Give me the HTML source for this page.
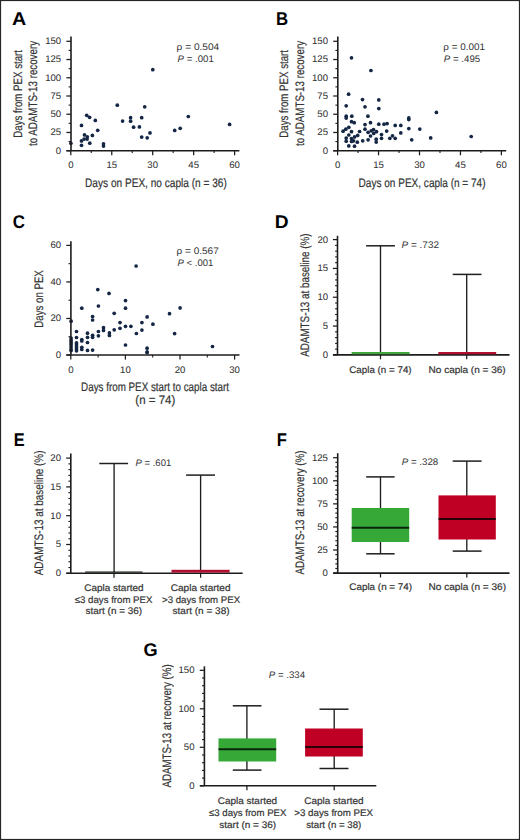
<!DOCTYPE html>
<html><head><meta charset="utf-8"><title>Figure</title>
<style>
html,body{margin:0;padding:0;background:#fff;}
body{width:520px;height:840px;overflow:hidden;font-family:"Liberation Sans", sans-serif;}
svg{display:block;}
svg text{font-family:"Liberation Sans", sans-serif;}
svg text.t{stroke:#333;stroke-width:0.2px;paint-order:stroke;}
svg text.n{stroke:#333;stroke-width:0.06px;}
</style></head><body>
<svg width="520" height="840" viewBox="0 0 520 840" font-family='"Liberation Sans", sans-serif' text-rendering="geometricPrecision">
<rect x="0" y="0" width="520" height="840" fill="#fff"/>
<circle cx="117.3" cy="105.2" r="1.85" fill="#142644"/>
<circle cx="122.6" cy="121.1" r="1.85" fill="#142644"/>
<circle cx="86.7" cy="115.3" r="1.85" fill="#142644"/>
<circle cx="89.6" cy="117.3" r="1.85" fill="#142644"/>
<circle cx="95.3" cy="120.4" r="1.85" fill="#142644"/>
<circle cx="81.5" cy="125.4" r="1.85" fill="#142644"/>
<circle cx="103.5" cy="143.8" r="1.85" fill="#142644"/>
<circle cx="103.5" cy="146.1" r="1.85" fill="#142644"/>
<circle cx="70.9" cy="143.3" r="1.85" fill="#142644"/>
<circle cx="84.5" cy="134.9" r="1.85" fill="#142644"/>
<circle cx="87.3" cy="136.8" r="1.85" fill="#142644"/>
<circle cx="87.1" cy="139.1" r="1.85" fill="#142644"/>
<circle cx="84.1" cy="139.1" r="1.85" fill="#142644"/>
<circle cx="81.5" cy="140.9" r="1.85" fill="#142644"/>
<circle cx="81.5" cy="145.3" r="1.85" fill="#142644"/>
<circle cx="89.8" cy="143.2" r="1.85" fill="#142644"/>
<circle cx="92.4" cy="135.4" r="1.85" fill="#142644"/>
<circle cx="97.7" cy="130.3" r="1.85" fill="#142644"/>
<circle cx="152.8" cy="69.7" r="1.85" fill="#142644"/>
<circle cx="144.7" cy="106.8" r="1.85" fill="#142644"/>
<circle cx="130.6" cy="117.7" r="1.85" fill="#142644"/>
<circle cx="130.6" cy="121.2" r="1.85" fill="#142644"/>
<circle cx="141.7" cy="117.7" r="1.85" fill="#142644"/>
<circle cx="133.6" cy="127.2" r="1.85" fill="#142644"/>
<circle cx="139.4" cy="126.9" r="1.85" fill="#142644"/>
<circle cx="141.7" cy="137.1" r="1.85" fill="#142644"/>
<circle cx="147.2" cy="137.8" r="1.85" fill="#142644"/>
<circle cx="150.0" cy="132.9" r="1.85" fill="#142644"/>
<circle cx="174.7" cy="130.4" r="1.85" fill="#142644"/>
<circle cx="180.2" cy="128.3" r="1.85" fill="#142644"/>
<circle cx="188.3" cy="116.5" r="1.85" fill="#142644"/>
<circle cx="229.6" cy="124.4" r="1.85" fill="#142644"/>
<line x1="71.00" y1="36.50" x2="71.00" y2="150.70" stroke="#1c1c1c" stroke-width="1.6"/>
<line x1="66.40" y1="150.70" x2="71.00" y2="150.70" stroke="#1c1c1c" stroke-width="1.25"/>
<line x1="66.40" y1="132.47" x2="71.00" y2="132.47" stroke="#1c1c1c" stroke-width="1.25"/>
<line x1="66.40" y1="114.23" x2="71.00" y2="114.23" stroke="#1c1c1c" stroke-width="1.25"/>
<line x1="66.40" y1="96.00" x2="71.00" y2="96.00" stroke="#1c1c1c" stroke-width="1.25"/>
<line x1="66.40" y1="77.77" x2="71.00" y2="77.77" stroke="#1c1c1c" stroke-width="1.25"/>
<line x1="66.40" y1="59.53" x2="71.00" y2="59.53" stroke="#1c1c1c" stroke-width="1.25"/>
<line x1="66.40" y1="41.30" x2="71.00" y2="41.30" stroke="#1c1c1c" stroke-width="1.25"/>
<line x1="68.60" y1="141.58" x2="71.00" y2="141.58" stroke="#1c1c1c" stroke-width="1.1"/>
<line x1="68.60" y1="123.35" x2="71.00" y2="123.35" stroke="#1c1c1c" stroke-width="1.1"/>
<line x1="68.60" y1="105.12" x2="71.00" y2="105.12" stroke="#1c1c1c" stroke-width="1.1"/>
<line x1="68.60" y1="86.88" x2="71.00" y2="86.88" stroke="#1c1c1c" stroke-width="1.1"/>
<line x1="68.60" y1="68.65" x2="71.00" y2="68.65" stroke="#1c1c1c" stroke-width="1.1"/>
<line x1="68.60" y1="50.42" x2="71.00" y2="50.42" stroke="#1c1c1c" stroke-width="1.1"/>
<line x1="66.40" y1="150.70" x2="239.40" y2="150.70" stroke="#1c1c1c" stroke-width="1.6"/>
<line x1="70.80" y1="150.70" x2="70.80" y2="155.30" stroke="#1c1c1c" stroke-width="1.25"/>
<line x1="111.75" y1="150.70" x2="111.75" y2="155.30" stroke="#1c1c1c" stroke-width="1.25"/>
<line x1="152.70" y1="150.70" x2="152.70" y2="155.30" stroke="#1c1c1c" stroke-width="1.25"/>
<line x1="193.65" y1="150.70" x2="193.65" y2="155.30" stroke="#1c1c1c" stroke-width="1.25"/>
<line x1="234.60" y1="150.70" x2="234.60" y2="155.30" stroke="#1c1c1c" stroke-width="1.25"/>
<line x1="91.28" y1="150.70" x2="91.28" y2="153.10" stroke="#1c1c1c" stroke-width="1.1"/>
<line x1="132.22" y1="150.70" x2="132.22" y2="153.10" stroke="#1c1c1c" stroke-width="1.1"/>
<line x1="173.18" y1="150.70" x2="173.18" y2="153.10" stroke="#1c1c1c" stroke-width="1.1"/>
<line x1="214.12" y1="150.70" x2="214.12" y2="153.10" stroke="#1c1c1c" stroke-width="1.1"/>
<text id="Ay0" class="n" x="61.20" y="153.60" font-size="9.6" font-weight="normal" font-style="normal" fill="#333333" text-anchor="end">0</text>
<text id="Ay25" class="n" x="61.20" y="135.37" font-size="9.6" font-weight="normal" font-style="normal" fill="#333333" text-anchor="end">25</text>
<text id="Ay50" class="n" x="61.20" y="117.13" font-size="9.6" font-weight="normal" font-style="normal" fill="#333333" text-anchor="end">50</text>
<text id="Ay75" class="n" x="61.20" y="98.90" font-size="9.6" font-weight="normal" font-style="normal" fill="#333333" text-anchor="end">75</text>
<text id="Ay100" class="n" x="61.20" y="80.67" font-size="9.6" font-weight="normal" font-style="normal" fill="#333333" text-anchor="end">100</text>
<text id="Ay125" class="n" x="61.20" y="62.43" font-size="9.6" font-weight="normal" font-style="normal" fill="#333333" text-anchor="end">125</text>
<text id="Ay150" class="n" x="61.20" y="44.20" font-size="9.6" font-weight="normal" font-style="normal" fill="#333333" text-anchor="end">150</text>
<text id="Ax0" class="n" x="70.80" y="168.40" font-size="9.6" font-weight="normal" font-style="normal" fill="#333333" text-anchor="middle">0</text>
<text id="Ax15" class="n" x="111.75" y="168.40" font-size="9.6" font-weight="normal" font-style="normal" fill="#333333" text-anchor="middle">15</text>
<text id="Ax30" class="n" x="152.70" y="168.40" font-size="9.6" font-weight="normal" font-style="normal" fill="#333333" text-anchor="middle">30</text>
<text id="Ax45" class="n" x="193.65" y="168.40" font-size="9.6" font-weight="normal" font-style="normal" fill="#333333" text-anchor="middle">45</text>
<text id="Ax60" class="n" x="234.60" y="168.40" font-size="9.6" font-weight="normal" font-style="normal" fill="#333333" text-anchor="middle">60</text>
<text id="Axt" class="t" x="85.08" y="186.50" font-size="12.3" font-weight="normal" font-style="normal" fill="#333333" text-anchor="start" textLength="141.71" lengthAdjust="spacingAndGlyphs">Days on PEX, no capla (n = 36)</text>
<text id="Ayt1" class="t" transform="translate(21.50,137.68) rotate(-90)" x="0" y="0" font-size="12.3" fill="#333333" textLength="87.67" lengthAdjust="spacingAndGlyphs">Days from PEX start</text>
<text id="Ayt2" class="t" transform="translate(37.20,146.00) rotate(-90)" x="0" y="0" font-size="12.3" fill="#333333" textLength="105.00" lengthAdjust="spacingAndGlyphs">to ADAMTS-13 recovery</text>
<text id="Arho" class="a" x="176.57" y="49.80" font-size="9.5" font-weight="normal" font-style="normal" fill="#333333" text-anchor="start" textLength="42.70" lengthAdjust="spacingAndGlyphs">ρ = 0.504</text>
<text id="Ap" class="a" x="177.54" y="61.50" font-size="9.5" font-weight="normal" font-style="normal" fill="#333333" text-anchor="start" textLength="36.23" lengthAdjust="spacingAndGlyphs"><tspan font-style="italic">P</tspan> = .001</text>
<circle cx="351.5" cy="57.8" r="1.85" fill="#142644"/>
<circle cx="370.9" cy="70.5" r="1.85" fill="#142644"/>
<circle cx="348.6" cy="94.2" r="1.85" fill="#142644"/>
<circle cx="362.5" cy="99.6" r="1.85" fill="#142644"/>
<circle cx="378.8" cy="99.9" r="1.85" fill="#142644"/>
<circle cx="346.2" cy="105.8" r="1.85" fill="#142644"/>
<circle cx="365.0" cy="106.8" r="1.85" fill="#142644"/>
<circle cx="346.2" cy="116.2" r="1.85" fill="#142644"/>
<circle cx="346.2" cy="118.1" r="1.85" fill="#142644"/>
<circle cx="351.8" cy="116.2" r="1.85" fill="#142644"/>
<circle cx="367.9" cy="116.2" r="1.85" fill="#142644"/>
<circle cx="351.5" cy="121.7" r="1.85" fill="#142644"/>
<circle cx="354.2" cy="122.7" r="1.85" fill="#142644"/>
<circle cx="370.5" cy="122.7" r="1.85" fill="#142644"/>
<circle cx="365.0" cy="124.6" r="1.85" fill="#142644"/>
<circle cx="343.1" cy="131.2" r="1.85" fill="#142644"/>
<circle cx="345.8" cy="129.2" r="1.85" fill="#142644"/>
<circle cx="348.8" cy="127.3" r="1.85" fill="#142644"/>
<circle cx="351.5" cy="131.7" r="1.85" fill="#142644"/>
<circle cx="359.6" cy="131.5" r="1.85" fill="#142644"/>
<circle cx="365.0" cy="129.2" r="1.85" fill="#142644"/>
<circle cx="368.1" cy="132.3" r="1.85" fill="#142644"/>
<circle cx="371.2" cy="130.8" r="1.85" fill="#142644"/>
<circle cx="373.5" cy="129.6" r="1.85" fill="#142644"/>
<circle cx="348.8" cy="135.0" r="1.85" fill="#142644"/>
<circle cx="346.2" cy="138.1" r="1.85" fill="#142644"/>
<circle cx="346.2" cy="141.2" r="1.85" fill="#142644"/>
<circle cx="351.5" cy="138.5" r="1.85" fill="#142644"/>
<circle cx="351.5" cy="141.5" r="1.85" fill="#142644"/>
<circle cx="354.6" cy="136.9" r="1.85" fill="#142644"/>
<circle cx="357.7" cy="135.4" r="1.85" fill="#142644"/>
<circle cx="357.3" cy="142.2" r="1.85" fill="#142644"/>
<circle cx="362.7" cy="140.8" r="1.85" fill="#142644"/>
<circle cx="368.1" cy="139.8" r="1.85" fill="#142644"/>
<circle cx="370.5" cy="136.0" r="1.85" fill="#142644"/>
<circle cx="348.8" cy="145.9" r="1.85" fill="#142644"/>
<circle cx="354.5" cy="146.2" r="1.85" fill="#142644"/>
<circle cx="353.5" cy="140.8" r="1.85" fill="#142644"/>
<circle cx="378.8" cy="108.6" r="1.85" fill="#142644"/>
<circle cx="378.8" cy="124.2" r="1.85" fill="#142644"/>
<circle cx="384.0" cy="124.2" r="1.85" fill="#142644"/>
<circle cx="387.1" cy="123.6" r="1.85" fill="#142644"/>
<circle cx="395.2" cy="125.4" r="1.85" fill="#142644"/>
<circle cx="400.8" cy="125.4" r="1.85" fill="#142644"/>
<circle cx="408.8" cy="117.9" r="1.85" fill="#142644"/>
<circle cx="408.8" cy="119.6" r="1.85" fill="#142644"/>
<circle cx="408.8" cy="128.6" r="1.85" fill="#142644"/>
<circle cx="419.8" cy="129.1" r="1.85" fill="#142644"/>
<circle cx="373.7" cy="133.4" r="1.85" fill="#142644"/>
<circle cx="376.5" cy="131.7" r="1.85" fill="#142644"/>
<circle cx="376.2" cy="139.2" r="1.85" fill="#142644"/>
<circle cx="376.2" cy="142.1" r="1.85" fill="#142644"/>
<circle cx="381.5" cy="134.6" r="1.85" fill="#142644"/>
<circle cx="381.5" cy="138.3" r="1.85" fill="#142644"/>
<circle cx="386.7" cy="131.1" r="1.85" fill="#142644"/>
<circle cx="389.8" cy="138.3" r="1.85" fill="#142644"/>
<circle cx="392.5" cy="135.8" r="1.85" fill="#142644"/>
<circle cx="395.2" cy="138.3" r="1.85" fill="#142644"/>
<circle cx="400.8" cy="132.9" r="1.85" fill="#142644"/>
<circle cx="411.7" cy="139.8" r="1.85" fill="#142644"/>
<circle cx="436.4" cy="112.4" r="1.85" fill="#142644"/>
<circle cx="430.7" cy="137.9" r="1.85" fill="#142644"/>
<circle cx="471.2" cy="136.5" r="1.85" fill="#142644"/>
<line x1="337.80" y1="36.50" x2="337.80" y2="150.70" stroke="#1c1c1c" stroke-width="1.6"/>
<line x1="333.20" y1="150.70" x2="337.80" y2="150.70" stroke="#1c1c1c" stroke-width="1.25"/>
<line x1="333.20" y1="132.47" x2="337.80" y2="132.47" stroke="#1c1c1c" stroke-width="1.25"/>
<line x1="333.20" y1="114.23" x2="337.80" y2="114.23" stroke="#1c1c1c" stroke-width="1.25"/>
<line x1="333.20" y1="96.00" x2="337.80" y2="96.00" stroke="#1c1c1c" stroke-width="1.25"/>
<line x1="333.20" y1="77.77" x2="337.80" y2="77.77" stroke="#1c1c1c" stroke-width="1.25"/>
<line x1="333.20" y1="59.53" x2="337.80" y2="59.53" stroke="#1c1c1c" stroke-width="1.25"/>
<line x1="333.20" y1="41.30" x2="337.80" y2="41.30" stroke="#1c1c1c" stroke-width="1.25"/>
<line x1="335.40" y1="141.58" x2="337.80" y2="141.58" stroke="#1c1c1c" stroke-width="1.1"/>
<line x1="335.40" y1="123.35" x2="337.80" y2="123.35" stroke="#1c1c1c" stroke-width="1.1"/>
<line x1="335.40" y1="105.12" x2="337.80" y2="105.12" stroke="#1c1c1c" stroke-width="1.1"/>
<line x1="335.40" y1="86.88" x2="337.80" y2="86.88" stroke="#1c1c1c" stroke-width="1.1"/>
<line x1="335.40" y1="68.65" x2="337.80" y2="68.65" stroke="#1c1c1c" stroke-width="1.1"/>
<line x1="335.40" y1="50.42" x2="337.80" y2="50.42" stroke="#1c1c1c" stroke-width="1.1"/>
<line x1="333.20" y1="150.70" x2="506.20" y2="150.70" stroke="#1c1c1c" stroke-width="1.6"/>
<line x1="337.60" y1="150.70" x2="337.60" y2="155.30" stroke="#1c1c1c" stroke-width="1.25"/>
<line x1="378.55" y1="150.70" x2="378.55" y2="155.30" stroke="#1c1c1c" stroke-width="1.25"/>
<line x1="419.50" y1="150.70" x2="419.50" y2="155.30" stroke="#1c1c1c" stroke-width="1.25"/>
<line x1="460.45" y1="150.70" x2="460.45" y2="155.30" stroke="#1c1c1c" stroke-width="1.25"/>
<line x1="501.40" y1="150.70" x2="501.40" y2="155.30" stroke="#1c1c1c" stroke-width="1.25"/>
<line x1="358.08" y1="150.70" x2="358.08" y2="153.10" stroke="#1c1c1c" stroke-width="1.1"/>
<line x1="399.03" y1="150.70" x2="399.03" y2="153.10" stroke="#1c1c1c" stroke-width="1.1"/>
<line x1="439.98" y1="150.70" x2="439.98" y2="153.10" stroke="#1c1c1c" stroke-width="1.1"/>
<line x1="480.93" y1="150.70" x2="480.93" y2="153.10" stroke="#1c1c1c" stroke-width="1.1"/>
<text id="By0" class="n" x="328.00" y="153.60" font-size="9.6" font-weight="normal" font-style="normal" fill="#333333" text-anchor="end">0</text>
<text id="By25" class="n" x="328.00" y="135.37" font-size="9.6" font-weight="normal" font-style="normal" fill="#333333" text-anchor="end">25</text>
<text id="By50" class="n" x="328.00" y="117.13" font-size="9.6" font-weight="normal" font-style="normal" fill="#333333" text-anchor="end">50</text>
<text id="By75" class="n" x="328.00" y="98.90" font-size="9.6" font-weight="normal" font-style="normal" fill="#333333" text-anchor="end">75</text>
<text id="By100" class="n" x="328.00" y="80.67" font-size="9.6" font-weight="normal" font-style="normal" fill="#333333" text-anchor="end">100</text>
<text id="By125" class="n" x="328.00" y="62.43" font-size="9.6" font-weight="normal" font-style="normal" fill="#333333" text-anchor="end">125</text>
<text id="By150" class="n" x="328.00" y="44.20" font-size="9.6" font-weight="normal" font-style="normal" fill="#333333" text-anchor="end">150</text>
<text id="Bx0" class="n" x="337.60" y="168.40" font-size="9.6" font-weight="normal" font-style="normal" fill="#333333" text-anchor="middle">0</text>
<text id="Bx15" class="n" x="378.55" y="168.40" font-size="9.6" font-weight="normal" font-style="normal" fill="#333333" text-anchor="middle">15</text>
<text id="Bx30" class="n" x="419.50" y="168.40" font-size="9.6" font-weight="normal" font-style="normal" fill="#333333" text-anchor="middle">30</text>
<text id="Bx45" class="n" x="460.45" y="168.40" font-size="9.6" font-weight="normal" font-style="normal" fill="#333333" text-anchor="middle">45</text>
<text id="Bx60" class="n" x="501.40" y="168.40" font-size="9.6" font-weight="normal" font-style="normal" fill="#333333" text-anchor="middle">60</text>
<text id="Bxt" class="t" x="358.59" y="186.50" font-size="12.3" font-weight="normal" font-style="normal" fill="#333333" text-anchor="start" textLength="126.96" lengthAdjust="spacingAndGlyphs">Days on PEX, capla (n = 74)</text>
<text id="Byt1" class="t" transform="translate(288.30,137.68) rotate(-90)" x="0" y="0" font-size="12.3" fill="#333333" textLength="87.67" lengthAdjust="spacingAndGlyphs">Days from PEX start</text>
<text id="Byt2" class="t" transform="translate(304.00,146.00) rotate(-90)" x="0" y="0" font-size="12.3" fill="#333333" textLength="105.00" lengthAdjust="spacingAndGlyphs">to ADAMTS-13 recovery</text>
<text id="Brho" class="a" x="443.32" y="49.80" font-size="9.5" font-weight="normal" font-style="normal" fill="#333333" text-anchor="start" textLength="41.69" lengthAdjust="spacingAndGlyphs">ρ = 0.001</text>
<text id="Bp" class="a" x="443.79" y="61.50" font-size="9.5" font-weight="normal" font-style="normal" fill="#333333" text-anchor="start" textLength="36.46" lengthAdjust="spacingAndGlyphs"><tspan font-style="italic">P</tspan> = .495</text>
<text id="LA" class="L" x="11.94" y="24.90" font-size="18.4" font-weight="bold" font-style="normal" fill="#000" text-anchor="start" textLength="14.23" lengthAdjust="spacingAndGlyphs">A</text>
<text id="LB" class="L" x="276.00" y="24.90" font-size="18.4" font-weight="bold" font-style="normal" fill="#000" text-anchor="start" textLength="12.13" lengthAdjust="spacingAndGlyphs">B</text>
<circle cx="71.1" cy="321.2" r="1.85" fill="#142644"/>
<circle cx="71.1" cy="338.0" r="1.85" fill="#142644"/>
<circle cx="71.1" cy="340.2" r="1.85" fill="#142644"/>
<circle cx="71.1" cy="342.4" r="1.85" fill="#142644"/>
<circle cx="71.1" cy="344.6" r="1.85" fill="#142644"/>
<circle cx="71.1" cy="346.8" r="1.85" fill="#142644"/>
<circle cx="71.1" cy="349.0" r="1.85" fill="#142644"/>
<circle cx="71.1" cy="350.6" r="1.85" fill="#142644"/>
<circle cx="76.5" cy="331.5" r="1.85" fill="#142644"/>
<circle cx="76.5" cy="337.5" r="1.85" fill="#142644"/>
<circle cx="76.5" cy="342.9" r="1.85" fill="#142644"/>
<circle cx="76.5" cy="344.9" r="1.85" fill="#142644"/>
<circle cx="76.5" cy="346.9" r="1.85" fill="#142644"/>
<circle cx="76.5" cy="348.9" r="1.85" fill="#142644"/>
<circle cx="76.5" cy="350.8" r="1.85" fill="#142644"/>
<circle cx="81.8" cy="308.2" r="1.85" fill="#142644"/>
<circle cx="81.8" cy="339.6" r="1.85" fill="#142644"/>
<circle cx="81.8" cy="340.9" r="1.85" fill="#142644"/>
<circle cx="81.8" cy="347.3" r="1.85" fill="#142644"/>
<circle cx="81.8" cy="349.5" r="1.85" fill="#142644"/>
<circle cx="87.5" cy="333.2" r="1.85" fill="#142644"/>
<circle cx="87.5" cy="337.3" r="1.85" fill="#142644"/>
<circle cx="87.5" cy="342.5" r="1.85" fill="#142644"/>
<circle cx="87.5" cy="350.4" r="1.85" fill="#142644"/>
<circle cx="92.6" cy="316.5" r="1.85" fill="#142644"/>
<circle cx="92.6" cy="320.0" r="1.85" fill="#142644"/>
<circle cx="92.6" cy="335.3" r="1.85" fill="#142644"/>
<circle cx="92.6" cy="337.3" r="1.85" fill="#142644"/>
<circle cx="92.6" cy="350.1" r="1.85" fill="#142644"/>
<circle cx="97.8" cy="289.6" r="1.85" fill="#142644"/>
<circle cx="98.4" cy="306.0" r="1.85" fill="#142644"/>
<circle cx="98.4" cy="331.5" r="1.85" fill="#142644"/>
<circle cx="98.4" cy="335.8" r="1.85" fill="#142644"/>
<circle cx="103.5" cy="327.7" r="1.85" fill="#142644"/>
<circle cx="103.5" cy="330.4" r="1.85" fill="#142644"/>
<circle cx="136.1" cy="266.0" r="1.85" fill="#142644"/>
<circle cx="109.0" cy="293.4" r="1.85" fill="#142644"/>
<circle cx="125.5" cy="300.6" r="1.85" fill="#142644"/>
<circle cx="125.5" cy="308.2" r="1.85" fill="#142644"/>
<circle cx="114.2" cy="313.3" r="1.85" fill="#142644"/>
<circle cx="147.1" cy="316.9" r="1.85" fill="#142644"/>
<circle cx="120.0" cy="322.6" r="1.85" fill="#142644"/>
<circle cx="141.9" cy="322.6" r="1.85" fill="#142644"/>
<circle cx="125.5" cy="326.3" r="1.85" fill="#142644"/>
<circle cx="130.9" cy="326.3" r="1.85" fill="#142644"/>
<circle cx="120.0" cy="328.3" r="1.85" fill="#142644"/>
<circle cx="114.2" cy="329.8" r="1.85" fill="#142644"/>
<circle cx="141.9" cy="330.1" r="1.85" fill="#142644"/>
<circle cx="109.4" cy="332.9" r="1.85" fill="#142644"/>
<circle cx="109.4" cy="335.5" r="1.85" fill="#142644"/>
<circle cx="136.4" cy="333.5" r="1.85" fill="#142644"/>
<circle cx="125.5" cy="345.0" r="1.85" fill="#142644"/>
<circle cx="147.1" cy="348.2" r="1.85" fill="#142644"/>
<circle cx="147.1" cy="351.9" r="1.85" fill="#142644"/>
<circle cx="180.1" cy="307.9" r="1.85" fill="#142644"/>
<circle cx="169.5" cy="313.7" r="1.85" fill="#142644"/>
<circle cx="152.9" cy="324.2" r="1.85" fill="#142644"/>
<circle cx="174.6" cy="333.6" r="1.85" fill="#142644"/>
<circle cx="212.5" cy="346.5" r="1.85" fill="#142644"/>
<circle cx="147.1" cy="352.6" r="1.85" fill="#142644"/>
<line x1="70.90" y1="241.30" x2="70.90" y2="355.00" stroke="#1c1c1c" stroke-width="1.6"/>
<line x1="66.30" y1="355.00" x2="70.90" y2="355.00" stroke="#1c1c1c" stroke-width="1.25"/>
<line x1="66.30" y1="318.47" x2="70.90" y2="318.47" stroke="#1c1c1c" stroke-width="1.25"/>
<line x1="66.30" y1="281.93" x2="70.90" y2="281.93" stroke="#1c1c1c" stroke-width="1.25"/>
<line x1="66.30" y1="245.40" x2="70.90" y2="245.40" stroke="#1c1c1c" stroke-width="1.25"/>
<line x1="68.50" y1="336.73" x2="70.90" y2="336.73" stroke="#1c1c1c" stroke-width="1.1"/>
<line x1="68.50" y1="300.20" x2="70.90" y2="300.20" stroke="#1c1c1c" stroke-width="1.1"/>
<line x1="68.50" y1="263.67" x2="70.90" y2="263.67" stroke="#1c1c1c" stroke-width="1.1"/>
<line x1="66.30" y1="355.00" x2="239.50" y2="355.00" stroke="#1c1c1c" stroke-width="1.6"/>
<line x1="70.80" y1="355.00" x2="70.80" y2="359.60" stroke="#1c1c1c" stroke-width="1.25"/>
<line x1="125.40" y1="355.00" x2="125.40" y2="359.60" stroke="#1c1c1c" stroke-width="1.25"/>
<line x1="180.00" y1="355.00" x2="180.00" y2="359.60" stroke="#1c1c1c" stroke-width="1.25"/>
<line x1="234.60" y1="355.00" x2="234.60" y2="359.60" stroke="#1c1c1c" stroke-width="1.25"/>
<line x1="98.10" y1="355.00" x2="98.10" y2="357.40" stroke="#1c1c1c" stroke-width="1.1"/>
<line x1="152.70" y1="355.00" x2="152.70" y2="357.40" stroke="#1c1c1c" stroke-width="1.1"/>
<line x1="207.30" y1="355.00" x2="207.30" y2="357.40" stroke="#1c1c1c" stroke-width="1.1"/>
<text id="Cy0" class="n" x="61.20" y="357.90" font-size="9.6" font-weight="normal" font-style="normal" fill="#333333" text-anchor="end">0</text>
<text id="Cy20" class="n" x="61.20" y="321.37" font-size="9.6" font-weight="normal" font-style="normal" fill="#333333" text-anchor="end">20</text>
<text id="Cy40" class="n" x="61.20" y="284.83" font-size="9.6" font-weight="normal" font-style="normal" fill="#333333" text-anchor="end">40</text>
<text id="Cy60" class="n" x="61.20" y="248.30" font-size="9.6" font-weight="normal" font-style="normal" fill="#333333" text-anchor="end">60</text>
<text id="Cx0" class="n" x="70.80" y="372.80" font-size="9.6" font-weight="normal" font-style="normal" fill="#333333" text-anchor="middle">0</text>
<text id="Cx10" class="n" x="125.40" y="372.80" font-size="9.6" font-weight="normal" font-style="normal" fill="#333333" text-anchor="middle">10</text>
<text id="Cx20" class="n" x="180.00" y="372.80" font-size="9.6" font-weight="normal" font-style="normal" fill="#333333" text-anchor="middle">20</text>
<text id="Cx30" class="n" x="234.60" y="372.80" font-size="9.6" font-weight="normal" font-style="normal" fill="#333333" text-anchor="middle">30</text>
<text id="Cxt1" class="t" x="81.09" y="391.00" font-size="12.3" font-weight="normal" font-style="normal" fill="#333333" text-anchor="start" textLength="147.91" lengthAdjust="spacingAndGlyphs">Days from PEX start to capla start</text>
<text id="Cxt2" class="t" x="135.32" y="404.20" font-size="12.3" font-weight="normal" font-style="normal" fill="#333333" text-anchor="start" textLength="39.94" lengthAdjust="spacingAndGlyphs">(n = 74)</text>
<text id="Cyt" class="t" transform="translate(43.20,327.66) rotate(-90)" x="0" y="0" font-size="12.3" fill="#333333" textLength="57.45" lengthAdjust="spacingAndGlyphs">Days on PEX</text>
<text id="Crho" class="a" x="176.57" y="254.40" font-size="9.5" font-weight="normal" font-style="normal" fill="#333333" text-anchor="start" textLength="42.22" lengthAdjust="spacingAndGlyphs">ρ = 0.567</text>
<text id="Cp" class="a" x="177.53" y="265.60" font-size="9.5" font-weight="normal" font-style="normal" fill="#333333" text-anchor="start" textLength="35.86" lengthAdjust="spacingAndGlyphs"><tspan font-style="italic">P</tspan> &lt; .001</text>
<text id="LC" class="L" x="12.80" y="228.10" font-size="18.4" font-weight="bold" font-style="normal" fill="#000" text-anchor="start" textLength="12.20" lengthAdjust="spacingAndGlyphs">C</text>
<line x1="337.50" y1="235.80" x2="337.50" y2="354.90" stroke="#1c1c1c" stroke-width="1.6"/>
<line x1="332.90" y1="354.90" x2="337.50" y2="354.90" stroke="#1c1c1c" stroke-width="1.25"/>
<line x1="332.90" y1="326.07" x2="337.50" y2="326.07" stroke="#1c1c1c" stroke-width="1.25"/>
<line x1="332.90" y1="297.25" x2="337.50" y2="297.25" stroke="#1c1c1c" stroke-width="1.25"/>
<line x1="332.90" y1="268.43" x2="337.50" y2="268.43" stroke="#1c1c1c" stroke-width="1.25"/>
<line x1="332.90" y1="239.60" x2="337.50" y2="239.60" stroke="#1c1c1c" stroke-width="1.25"/>
<line x1="335.10" y1="349.13" x2="337.50" y2="349.13" stroke="#1c1c1c" stroke-width="1.1"/>
<line x1="335.10" y1="343.37" x2="337.50" y2="343.37" stroke="#1c1c1c" stroke-width="1.1"/>
<line x1="335.10" y1="337.60" x2="337.50" y2="337.60" stroke="#1c1c1c" stroke-width="1.1"/>
<line x1="335.10" y1="331.84" x2="337.50" y2="331.84" stroke="#1c1c1c" stroke-width="1.1"/>
<line x1="335.10" y1="320.31" x2="337.50" y2="320.31" stroke="#1c1c1c" stroke-width="1.1"/>
<line x1="335.10" y1="314.54" x2="337.50" y2="314.54" stroke="#1c1c1c" stroke-width="1.1"/>
<line x1="335.10" y1="308.78" x2="337.50" y2="308.78" stroke="#1c1c1c" stroke-width="1.1"/>
<line x1="335.10" y1="303.01" x2="337.50" y2="303.01" stroke="#1c1c1c" stroke-width="1.1"/>
<line x1="335.10" y1="291.49" x2="337.50" y2="291.49" stroke="#1c1c1c" stroke-width="1.1"/>
<line x1="335.10" y1="285.72" x2="337.50" y2="285.72" stroke="#1c1c1c" stroke-width="1.1"/>
<line x1="335.10" y1="279.95" x2="337.50" y2="279.95" stroke="#1c1c1c" stroke-width="1.1"/>
<line x1="335.10" y1="274.19" x2="337.50" y2="274.19" stroke="#1c1c1c" stroke-width="1.1"/>
<line x1="335.10" y1="262.66" x2="337.50" y2="262.66" stroke="#1c1c1c" stroke-width="1.1"/>
<line x1="335.10" y1="256.89" x2="337.50" y2="256.89" stroke="#1c1c1c" stroke-width="1.1"/>
<line x1="335.10" y1="251.13" x2="337.50" y2="251.13" stroke="#1c1c1c" stroke-width="1.1"/>
<line x1="335.10" y1="245.37" x2="337.50" y2="245.37" stroke="#1c1c1c" stroke-width="1.1"/>
<line x1="333.00" y1="354.90" x2="509.50" y2="354.90" stroke="#1c1c1c" stroke-width="1.6"/>
<line x1="380.50" y1="354.90" x2="380.50" y2="359.30" stroke="#1c1c1c" stroke-width="1.25"/>
<line x1="466.70" y1="354.90" x2="466.70" y2="359.30" stroke="#1c1c1c" stroke-width="1.25"/>
<text id="Dy0" class="n" x="328.10" y="357.80" font-size="9.6" font-weight="normal" font-style="normal" fill="#333333" text-anchor="end">0</text>
<text id="Dy5" class="n" x="328.10" y="328.97" font-size="9.6" font-weight="normal" font-style="normal" fill="#333333" text-anchor="end">5</text>
<text id="Dy10" class="n" x="328.10" y="300.15" font-size="9.6" font-weight="normal" font-style="normal" fill="#333333" text-anchor="end">10</text>
<text id="Dy15" class="n" x="328.10" y="271.32" font-size="9.6" font-weight="normal" font-style="normal" fill="#333333" text-anchor="end">15</text>
<text id="Dy20" class="n" x="328.10" y="242.50" font-size="9.6" font-weight="normal" font-style="normal" fill="#333333" text-anchor="end">20</text>
<text id="Dyt" class="t" transform="translate(309.30,356.76) rotate(-90)" x="0" y="0" font-size="12.3" fill="#333333" textLength="123.27" lengthAdjust="spacingAndGlyphs">ADAMTS-13 at baseline (%)</text>
<text id="Dann" class="a" x="401.54" y="247.50" font-size="9.5" font-weight="normal" font-style="normal" fill="#333333" text-anchor="start" textLength="37.46" lengthAdjust="spacingAndGlyphs"><tspan font-style="italic">P</tspan> = .732</text>
<line x1="380.50" y1="354.00" x2="380.50" y2="245.80" stroke="#1e1e1e" stroke-width="1.35"/>
<line x1="366.10" y1="245.80" x2="394.90" y2="245.80" stroke="#1e1e1e" stroke-width="1.5"/>
<rect x="351.60" y="352.00" width="58.00" height="2.30" fill="#41a63f"/>
<line x1="466.70" y1="354.00" x2="466.70" y2="274.40" stroke="#1e1e1e" stroke-width="1.35"/>
<line x1="452.70" y1="274.40" x2="481.50" y2="274.40" stroke="#1e1e1e" stroke-width="1.5"/>
<rect x="438.30" y="352.00" width="57.90" height="2.30" fill="#b01030"/>
<text id="Dc1" class="t" x="349.29" y="373.10" font-size="9.7" font-weight="normal" font-style="normal" fill="#333333" text-anchor="start" textLength="62.36" lengthAdjust="spacingAndGlyphs">Capla (n = 74)</text>
<text id="Dc2" class="t" x="428.58" y="373.00" font-size="9.7" font-weight="normal" font-style="normal" fill="#333333" text-anchor="start" textLength="77.08" lengthAdjust="spacingAndGlyphs">No capla (n = 36)</text>
<text id="LD" class="L" x="274.89" y="227.80" font-size="18.4" font-weight="bold" font-style="normal" fill="#000" text-anchor="start" textLength="13.85" lengthAdjust="spacingAndGlyphs">D</text>
<line x1="70.80" y1="453.60" x2="70.80" y2="573.30" stroke="#1c1c1c" stroke-width="1.6"/>
<line x1="66.20" y1="573.30" x2="70.80" y2="573.30" stroke="#1c1c1c" stroke-width="1.25"/>
<line x1="66.20" y1="544.50" x2="70.80" y2="544.50" stroke="#1c1c1c" stroke-width="1.25"/>
<line x1="66.20" y1="515.70" x2="70.80" y2="515.70" stroke="#1c1c1c" stroke-width="1.25"/>
<line x1="66.20" y1="486.90" x2="70.80" y2="486.90" stroke="#1c1c1c" stroke-width="1.25"/>
<line x1="66.20" y1="458.10" x2="70.80" y2="458.10" stroke="#1c1c1c" stroke-width="1.25"/>
<line x1="68.40" y1="567.54" x2="70.80" y2="567.54" stroke="#1c1c1c" stroke-width="1.1"/>
<line x1="68.40" y1="561.78" x2="70.80" y2="561.78" stroke="#1c1c1c" stroke-width="1.1"/>
<line x1="68.40" y1="556.02" x2="70.80" y2="556.02" stroke="#1c1c1c" stroke-width="1.1"/>
<line x1="68.40" y1="550.26" x2="70.80" y2="550.26" stroke="#1c1c1c" stroke-width="1.1"/>
<line x1="68.40" y1="538.74" x2="70.80" y2="538.74" stroke="#1c1c1c" stroke-width="1.1"/>
<line x1="68.40" y1="532.98" x2="70.80" y2="532.98" stroke="#1c1c1c" stroke-width="1.1"/>
<line x1="68.40" y1="527.22" x2="70.80" y2="527.22" stroke="#1c1c1c" stroke-width="1.1"/>
<line x1="68.40" y1="521.46" x2="70.80" y2="521.46" stroke="#1c1c1c" stroke-width="1.1"/>
<line x1="68.40" y1="509.94" x2="70.80" y2="509.94" stroke="#1c1c1c" stroke-width="1.1"/>
<line x1="68.40" y1="504.18" x2="70.80" y2="504.18" stroke="#1c1c1c" stroke-width="1.1"/>
<line x1="68.40" y1="498.42" x2="70.80" y2="498.42" stroke="#1c1c1c" stroke-width="1.1"/>
<line x1="68.40" y1="492.66" x2="70.80" y2="492.66" stroke="#1c1c1c" stroke-width="1.1"/>
<line x1="68.40" y1="481.14" x2="70.80" y2="481.14" stroke="#1c1c1c" stroke-width="1.1"/>
<line x1="68.40" y1="475.38" x2="70.80" y2="475.38" stroke="#1c1c1c" stroke-width="1.1"/>
<line x1="68.40" y1="469.62" x2="70.80" y2="469.62" stroke="#1c1c1c" stroke-width="1.1"/>
<line x1="68.40" y1="463.86" x2="70.80" y2="463.86" stroke="#1c1c1c" stroke-width="1.1"/>
<line x1="66.30" y1="573.30" x2="242.70" y2="573.30" stroke="#1c1c1c" stroke-width="1.6"/>
<line x1="114.00" y1="573.30" x2="114.00" y2="577.70" stroke="#1c1c1c" stroke-width="1.25"/>
<line x1="200.60" y1="573.30" x2="200.60" y2="577.70" stroke="#1c1c1c" stroke-width="1.25"/>
<text id="Ey0" class="n" x="61.00" y="576.20" font-size="9.6" font-weight="normal" font-style="normal" fill="#333333" text-anchor="end">0</text>
<text id="Ey5" class="n" x="61.00" y="547.40" font-size="9.6" font-weight="normal" font-style="normal" fill="#333333" text-anchor="end">5</text>
<text id="Ey10" class="n" x="61.00" y="518.60" font-size="9.6" font-weight="normal" font-style="normal" fill="#333333" text-anchor="end">10</text>
<text id="Ey15" class="n" x="61.00" y="489.80" font-size="9.6" font-weight="normal" font-style="normal" fill="#333333" text-anchor="end">15</text>
<text id="Ey20" class="n" x="61.00" y="461.00" font-size="9.6" font-weight="normal" font-style="normal" fill="#333333" text-anchor="end">20</text>
<text id="Eyt" class="t" transform="translate(43.00,575.25) rotate(-90)" x="0" y="0" font-size="12.3" fill="#333333" textLength="124.74" lengthAdjust="spacingAndGlyphs">ADAMTS-13 at baseline (%)</text>
<text id="Eann" class="a" x="135.53" y="465.50" font-size="9.5" font-weight="normal" font-style="normal" fill="#333333" text-anchor="start" textLength="35.73" lengthAdjust="spacingAndGlyphs"><tspan font-style="italic">P</tspan> = .601</text>
<line x1="114.10" y1="572.50" x2="114.10" y2="463.50" stroke="#1e1e1e" stroke-width="1.35"/>
<line x1="99.30" y1="463.50" x2="128.10" y2="463.50" stroke="#1e1e1e" stroke-width="1.5"/>
<rect x="85.20" y="571.50" width="57.30" height="1.10" fill="#0c160a"/>
<line x1="200.60" y1="572.50" x2="200.60" y2="475.10" stroke="#1e1e1e" stroke-width="1.35"/>
<line x1="186.10" y1="475.10" x2="215.00" y2="475.10" stroke="#1e1e1e" stroke-width="1.5"/>
<rect x="171.50" y="569.80" width="58.10" height="2.80" fill="#b01030"/>
<text id="Ec1" class="t" x="84.28" y="590.60" font-size="9.6" font-weight="normal" font-style="normal" fill="#333333" text-anchor="start" textLength="59.30" lengthAdjust="spacingAndGlyphs">Capla started</text>
<text id="Ec2" class="t" x="74.78" y="602.50" font-size="9.6" font-weight="normal" font-style="normal" fill="#333333" text-anchor="start" textLength="77.61" lengthAdjust="spacingAndGlyphs">≤3 days from PEX</text>
<text id="Ec3" class="t" x="85.53" y="614.20" font-size="9.6" font-weight="normal" font-style="normal" fill="#333333" text-anchor="start" textLength="56.55" lengthAdjust="spacingAndGlyphs">start (n = 36)</text>
<text id="Ec4" class="t" x="170.78" y="590.60" font-size="9.6" font-weight="normal" font-style="normal" fill="#333333" text-anchor="start" textLength="59.79" lengthAdjust="spacingAndGlyphs">Capla started</text>
<text id="Ec5" class="t" x="162.03" y="602.50" font-size="9.6" font-weight="normal" font-style="normal" fill="#333333" text-anchor="start" textLength="78.09" lengthAdjust="spacingAndGlyphs">&gt;3 days from PEX</text>
<text id="Ec6" class="t" x="172.52" y="614.20" font-size="9.6" font-weight="normal" font-style="normal" fill="#333333" text-anchor="start" textLength="57.06" lengthAdjust="spacingAndGlyphs">start (n = 38)</text>
<text id="LE" class="L" x="13.69" y="445.80" font-size="18.4" font-weight="bold" font-style="normal" fill="#000" text-anchor="start" textLength="10.91" lengthAdjust="spacingAndGlyphs">E</text>
<line x1="337.70" y1="453.20" x2="337.70" y2="573.10" stroke="#1c1c1c" stroke-width="1.6"/>
<line x1="333.10" y1="573.10" x2="337.70" y2="573.10" stroke="#1c1c1c" stroke-width="1.25"/>
<line x1="333.10" y1="550.02" x2="337.70" y2="550.02" stroke="#1c1c1c" stroke-width="1.25"/>
<line x1="333.10" y1="526.94" x2="337.70" y2="526.94" stroke="#1c1c1c" stroke-width="1.25"/>
<line x1="333.10" y1="503.86" x2="337.70" y2="503.86" stroke="#1c1c1c" stroke-width="1.25"/>
<line x1="333.10" y1="480.78" x2="337.70" y2="480.78" stroke="#1c1c1c" stroke-width="1.25"/>
<line x1="333.10" y1="457.70" x2="337.70" y2="457.70" stroke="#1c1c1c" stroke-width="1.25"/>
<line x1="335.30" y1="568.48" x2="337.70" y2="568.48" stroke="#1c1c1c" stroke-width="1.1"/>
<line x1="335.30" y1="563.87" x2="337.70" y2="563.87" stroke="#1c1c1c" stroke-width="1.1"/>
<line x1="335.30" y1="559.25" x2="337.70" y2="559.25" stroke="#1c1c1c" stroke-width="1.1"/>
<line x1="335.30" y1="554.64" x2="337.70" y2="554.64" stroke="#1c1c1c" stroke-width="1.1"/>
<line x1="335.30" y1="545.40" x2="337.70" y2="545.40" stroke="#1c1c1c" stroke-width="1.1"/>
<line x1="335.30" y1="540.79" x2="337.70" y2="540.79" stroke="#1c1c1c" stroke-width="1.1"/>
<line x1="335.30" y1="536.17" x2="337.70" y2="536.17" stroke="#1c1c1c" stroke-width="1.1"/>
<line x1="335.30" y1="531.56" x2="337.70" y2="531.56" stroke="#1c1c1c" stroke-width="1.1"/>
<line x1="335.30" y1="522.32" x2="337.70" y2="522.32" stroke="#1c1c1c" stroke-width="1.1"/>
<line x1="335.30" y1="517.71" x2="337.70" y2="517.71" stroke="#1c1c1c" stroke-width="1.1"/>
<line x1="335.30" y1="513.09" x2="337.70" y2="513.09" stroke="#1c1c1c" stroke-width="1.1"/>
<line x1="335.30" y1="508.48" x2="337.70" y2="508.48" stroke="#1c1c1c" stroke-width="1.1"/>
<line x1="335.30" y1="499.24" x2="337.70" y2="499.24" stroke="#1c1c1c" stroke-width="1.1"/>
<line x1="335.30" y1="494.63" x2="337.70" y2="494.63" stroke="#1c1c1c" stroke-width="1.1"/>
<line x1="335.30" y1="490.01" x2="337.70" y2="490.01" stroke="#1c1c1c" stroke-width="1.1"/>
<line x1="335.30" y1="485.40" x2="337.70" y2="485.40" stroke="#1c1c1c" stroke-width="1.1"/>
<line x1="335.30" y1="476.16" x2="337.70" y2="476.16" stroke="#1c1c1c" stroke-width="1.1"/>
<line x1="335.30" y1="471.55" x2="337.70" y2="471.55" stroke="#1c1c1c" stroke-width="1.1"/>
<line x1="335.30" y1="466.93" x2="337.70" y2="466.93" stroke="#1c1c1c" stroke-width="1.1"/>
<line x1="335.30" y1="462.32" x2="337.70" y2="462.32" stroke="#1c1c1c" stroke-width="1.1"/>
<line x1="333.20" y1="573.10" x2="509.50" y2="573.10" stroke="#1c1c1c" stroke-width="1.6"/>
<line x1="380.50" y1="573.10" x2="380.50" y2="577.50" stroke="#1c1c1c" stroke-width="1.25"/>
<line x1="466.80" y1="573.10" x2="466.80" y2="577.50" stroke="#1c1c1c" stroke-width="1.25"/>
<text id="Fy0" class="n" x="327.90" y="576.00" font-size="9.6" font-weight="normal" font-style="normal" fill="#333333" text-anchor="end">0</text>
<text id="Fy25" class="n" x="327.90" y="552.92" font-size="9.6" font-weight="normal" font-style="normal" fill="#333333" text-anchor="end">25</text>
<text id="Fy50" class="n" x="327.90" y="529.84" font-size="9.6" font-weight="normal" font-style="normal" fill="#333333" text-anchor="end">50</text>
<text id="Fy75" class="n" x="327.90" y="506.76" font-size="9.6" font-weight="normal" font-style="normal" fill="#333333" text-anchor="end">75</text>
<text id="Fy100" class="n" x="327.90" y="483.68" font-size="9.6" font-weight="normal" font-style="normal" fill="#333333" text-anchor="end">100</text>
<text id="Fy125" class="n" x="327.90" y="460.60" font-size="9.6" font-weight="normal" font-style="normal" fill="#333333" text-anchor="end">125</text>
<text id="Fyt" class="t" transform="translate(304.00,574.51) rotate(-90)" x="0" y="0" font-size="12.3" fill="#333333" textLength="124.00" lengthAdjust="spacingAndGlyphs">ADAMTS-13 at recovery (%)</text>
<text id="Fann" class="a" x="401.79" y="465.20" font-size="9.5" font-weight="normal" font-style="normal" fill="#333333" text-anchor="start" textLength="36.48" lengthAdjust="spacingAndGlyphs"><tspan font-style="italic">P</tspan> = .328</text>
<line x1="380.50" y1="553.80" x2="380.50" y2="476.90" stroke="#1e1e1e" stroke-width="1.35"/>
<line x1="366.20" y1="476.90" x2="394.60" y2="476.90" stroke="#1e1e1e" stroke-width="1.5"/>
<line x1="366.20" y1="553.80" x2="394.60" y2="553.80" stroke="#1e1e1e" stroke-width="1.5"/>
<rect x="351.70" y="508.00" width="57.50" height="34.00" fill="#35a838"/>
<line x1="351.70" y1="527.80" x2="409.20" y2="527.80" stroke="#000" stroke-width="2.0" stroke-opacity="0.78"/>
<line x1="466.80" y1="551.10" x2="466.80" y2="461.10" stroke="#1e1e1e" stroke-width="1.35"/>
<line x1="452.70" y1="461.10" x2="481.60" y2="461.10" stroke="#1e1e1e" stroke-width="1.5"/>
<line x1="452.70" y1="551.10" x2="481.60" y2="551.10" stroke="#1e1e1e" stroke-width="1.5"/>
<rect x="438.50" y="495.40" width="57.30" height="44.10" fill="#bf0024"/>
<line x1="438.50" y1="519.00" x2="495.80" y2="519.00" stroke="#000" stroke-width="2.0" stroke-opacity="0.78"/>
<text id="Fc1" class="t" x="349.31" y="590.10" font-size="9.7" font-weight="normal" font-style="normal" fill="#333333" text-anchor="start" textLength="62.86" lengthAdjust="spacingAndGlyphs">Capla (n = 74)</text>
<text id="Fc2" class="t" x="428.58" y="590.10" font-size="9.7" font-weight="normal" font-style="normal" fill="#333333" text-anchor="start" textLength="77.48" lengthAdjust="spacingAndGlyphs">No capla (n = 36)</text>
<text id="LF" class="L" x="276.71" y="445.80" font-size="18.4" font-weight="bold" font-style="normal" fill="#000" text-anchor="start" textLength="10.14" lengthAdjust="spacingAndGlyphs">F</text>
<line x1="204.40" y1="666.30" x2="204.40" y2="785.80" stroke="#1c1c1c" stroke-width="1.6"/>
<line x1="199.80" y1="785.80" x2="204.40" y2="785.80" stroke="#1c1c1c" stroke-width="1.25"/>
<line x1="199.80" y1="747.30" x2="204.40" y2="747.30" stroke="#1c1c1c" stroke-width="1.25"/>
<line x1="199.80" y1="708.80" x2="204.40" y2="708.80" stroke="#1c1c1c" stroke-width="1.25"/>
<line x1="199.80" y1="670.30" x2="204.40" y2="670.30" stroke="#1c1c1c" stroke-width="1.25"/>
<line x1="202.00" y1="778.10" x2="204.40" y2="778.10" stroke="#1c1c1c" stroke-width="1.1"/>
<line x1="202.00" y1="770.40" x2="204.40" y2="770.40" stroke="#1c1c1c" stroke-width="1.1"/>
<line x1="202.00" y1="762.70" x2="204.40" y2="762.70" stroke="#1c1c1c" stroke-width="1.1"/>
<line x1="202.00" y1="755.00" x2="204.40" y2="755.00" stroke="#1c1c1c" stroke-width="1.1"/>
<line x1="202.00" y1="739.60" x2="204.40" y2="739.60" stroke="#1c1c1c" stroke-width="1.1"/>
<line x1="202.00" y1="731.90" x2="204.40" y2="731.90" stroke="#1c1c1c" stroke-width="1.1"/>
<line x1="202.00" y1="724.20" x2="204.40" y2="724.20" stroke="#1c1c1c" stroke-width="1.1"/>
<line x1="202.00" y1="716.50" x2="204.40" y2="716.50" stroke="#1c1c1c" stroke-width="1.1"/>
<line x1="202.00" y1="701.10" x2="204.40" y2="701.10" stroke="#1c1c1c" stroke-width="1.1"/>
<line x1="202.00" y1="693.40" x2="204.40" y2="693.40" stroke="#1c1c1c" stroke-width="1.1"/>
<line x1="202.00" y1="685.70" x2="204.40" y2="685.70" stroke="#1c1c1c" stroke-width="1.1"/>
<line x1="202.00" y1="678.00" x2="204.40" y2="678.00" stroke="#1c1c1c" stroke-width="1.1"/>
<line x1="199.90" y1="785.80" x2="376.30" y2="785.80" stroke="#1c1c1c" stroke-width="1.6"/>
<line x1="246.90" y1="785.80" x2="246.90" y2="790.20" stroke="#1c1c1c" stroke-width="1.25"/>
<line x1="334.20" y1="785.80" x2="334.20" y2="790.20" stroke="#1c1c1c" stroke-width="1.25"/>
<text id="Gy0" class="n" x="194.50" y="788.70" font-size="9.6" font-weight="normal" font-style="normal" fill="#333333" text-anchor="end">0</text>
<text id="Gy50" class="n" x="194.50" y="750.20" font-size="9.6" font-weight="normal" font-style="normal" fill="#333333" text-anchor="end">50</text>
<text id="Gy100" class="n" x="194.50" y="711.70" font-size="9.6" font-weight="normal" font-style="normal" fill="#333333" text-anchor="end">100</text>
<text id="Gy150" class="n" x="194.50" y="673.20" font-size="9.6" font-weight="normal" font-style="normal" fill="#333333" text-anchor="end">150</text>
<text id="Gyt" class="t" transform="translate(170.70,787.50) rotate(-90)" x="0" y="0" font-size="12.3" fill="#333333" textLength="123.25" lengthAdjust="spacingAndGlyphs">ADAMTS-13 at recovery (%)</text>
<text id="Gann" class="a" x="268.77" y="678.30" font-size="9.5" font-weight="normal" font-style="normal" fill="#333333" text-anchor="start" textLength="36.26" lengthAdjust="spacingAndGlyphs"><tspan font-style="italic">P</tspan> = .334</text>
<line x1="246.90" y1="770.10" x2="246.90" y2="705.80" stroke="#1e1e1e" stroke-width="1.35"/>
<line x1="232.80" y1="705.80" x2="261.50" y2="705.80" stroke="#1e1e1e" stroke-width="1.5"/>
<line x1="232.80" y1="770.10" x2="261.50" y2="770.10" stroke="#1e1e1e" stroke-width="1.5"/>
<rect x="218.50" y="738.40" width="57.70" height="23.10" fill="#35a838"/>
<line x1="218.50" y1="749.30" x2="276.20" y2="749.30" stroke="#000" stroke-width="2.0" stroke-opacity="0.78"/>
<line x1="334.20" y1="768.50" x2="334.20" y2="709.20" stroke="#1e1e1e" stroke-width="1.35"/>
<line x1="319.50" y1="709.20" x2="348.50" y2="709.20" stroke="#1e1e1e" stroke-width="1.5"/>
<line x1="319.50" y1="768.50" x2="348.50" y2="768.50" stroke="#1e1e1e" stroke-width="1.5"/>
<rect x="305.10" y="728.50" width="57.70" height="28.00" fill="#bf0024"/>
<line x1="305.10" y1="746.90" x2="362.80" y2="746.90" stroke="#000" stroke-width="2.0" stroke-opacity="0.78"/>
<text id="Gc1" class="t" x="217.78" y="803.80" font-size="9.6" font-weight="normal" font-style="normal" fill="#333333" text-anchor="start" textLength="59.30" lengthAdjust="spacingAndGlyphs">Capla started</text>
<text id="Gc2" class="t" x="209.01" y="815.70" font-size="9.6" font-weight="normal" font-style="normal" fill="#333333" text-anchor="start" textLength="77.36" lengthAdjust="spacingAndGlyphs">≤3 days from PEX</text>
<text id="Gc3" class="t" x="219.26" y="827.60" font-size="9.6" font-weight="normal" font-style="normal" fill="#333333" text-anchor="start" textLength="56.82" lengthAdjust="spacingAndGlyphs">start (n = 36)</text>
<text id="Gc4" class="t" x="304.29" y="803.80" font-size="9.6" font-weight="normal" font-style="normal" fill="#333333" text-anchor="start" textLength="59.28" lengthAdjust="spacingAndGlyphs">Capla started</text>
<text id="Gc5" class="t" x="294.29" y="815.70" font-size="9.6" font-weight="normal" font-style="normal" fill="#333333" text-anchor="start" textLength="78.83" lengthAdjust="spacingAndGlyphs">&gt;3 days from PEX</text>
<text id="Gc6" class="t" x="306.26" y="827.60" font-size="9.6" font-weight="normal" font-style="normal" fill="#333333" text-anchor="start" textLength="55.07" lengthAdjust="spacingAndGlyphs">start (n = 38)</text>
<text id="LG" class="L" x="143.39" y="655.50" font-size="18.4" font-weight="bold" font-style="normal" fill="#000" text-anchor="start" textLength="14.13" lengthAdjust="spacingAndGlyphs">G</text>
<rect x="0.55" y="0.55" width="518.9" height="838.9" fill="none" stroke="#262626" stroke-width="1.1"/>
</svg>
</body></html>
